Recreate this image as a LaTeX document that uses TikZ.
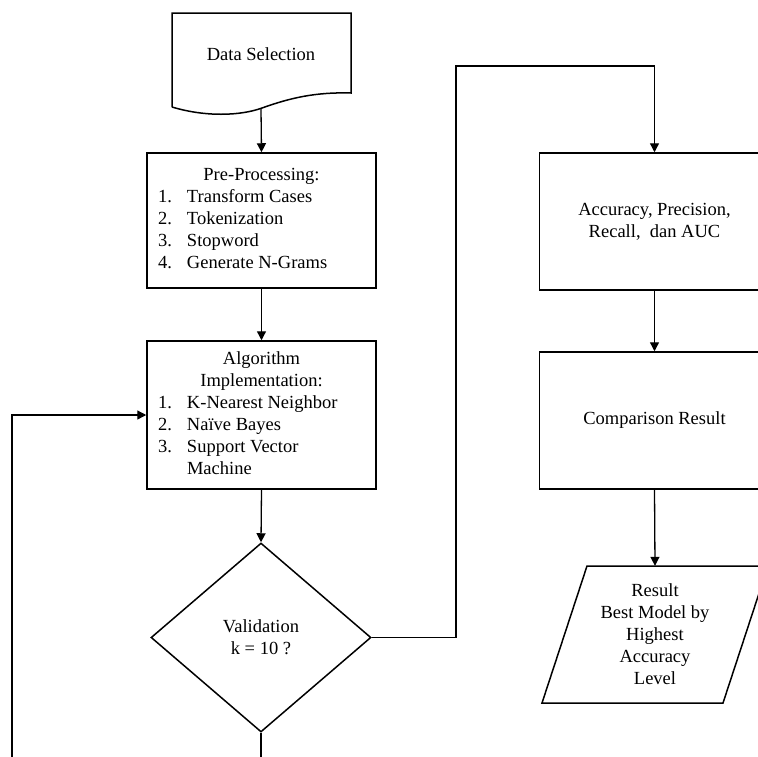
\documentclass[tikz,border=0pt]{standalone}
\usepackage{fontspec}
\setmainfont{Liberation Serif}
\usetikzlibrary{arrows.meta,shapes.geometric}
\tikzset{
  lw/.style={line width=1.5pt},
  cw/.style={line width=1.3pt},
  box/.style={draw, lw, rectangle, inner sep=0pt, minimum width=229pt, align=center},
  arr/.style={cw, -{Triangle[length=9pt,width=9pt]}},
  txt/.style={font=\fontsize{18.5}{22}\selectfont},
}
\begin{document}
\begin{tikzpicture}[x=1pt,y=-1pt,txt]
\useasboundingbox (0,0) rectangle (758,756);
\clip (0,0) rectangle (758,756);
% Data selection (document shape)
\draw[lw, line join=miter] (172,107) -- (172,13) -- (351,13) -- (351,93)
  .. controls (315,92) and (290,98) .. (262,108)
  .. controls (240,116) and (205,117) .. (172,107);
\node (data) at (261,54) {Data Selection};
\coordinate (datab) at (261,109);
% Pre-processing
\node[box, minimum height=135pt] (pre) at (261.5,220.5) {%
  \begin{tabular}{@{}p{29pt}@{}p{178pt}@{}}
  \multicolumn{2}{@{}c@{}}{Pre-Processing:}\\
  1. & Transform Cases\\
  2. & Tokenization\\
  3. & Stopword\\
  4. & Generate N-Grams
  \end{tabular}};
% Algorithm
\node[box, minimum height=148pt] (alg) at (261.5,415) {%
  \begin{tabular}{@{}p{29pt}@{}p{178pt}@{}}
  \multicolumn{2}{@{}c@{}}{Algorithm}\\
  \multicolumn{2}{@{}c@{}}{Implementation:}\\
  1. & K-Nearest Neighbor\\
  2. & Naïve Bayes\\
  3. & Support Vector\\
     & Machine
  \end{tabular}};
% Validation diamond
\node[draw, lw, diamond, inner sep=0pt, minimum width=220pt, minimum height=189pt, align=center] (val) at (261,637.5) {Validation\\k = 10 ?};
% Right column
\node[box, minimum width=230pt, minimum height=137pt] (acc) at (654.5,221.5) {Accuracy, Precision,\\Recall,\ \ dan AUC};
\node[box, minimum width=230pt, minimum height=137pt] (cmp) at (654.5,420.5) {Comparison Result};
% Result parallelogram
\node[align=center, inner sep=0pt, minimum height=137pt, minimum width=181pt] (res) at (655,634.5) {Result\\Best Model by\\Highest\\Accuracy\\Level};
\draw[lw] (587,566) -- (768,566) -- (723,703) -- (542,703) -- cycle;
% Coordinates for routing
\coordinate (up) at (456,66);
\coordinate (down) at (261,790);
\coordinate (loopx) at (12,790);
% Connectors
\draw[arr] (datab) -- (pre.north);
\draw[arr] (pre.south) -- (alg.north);
\draw[arr] (alg.south) -- (val.north);
\draw[arr] (val.east) -| (up) -| (acc.north);
\draw[arr] (acc.south) -- (cmp.north);
\draw[arr] (cmp.south) -- (res.north);
\draw[cw] (val.south) -- (down);
\draw[arr] (down) -- (loopx) |- (alg.west);
\end{tikzpicture}
\end{document}
